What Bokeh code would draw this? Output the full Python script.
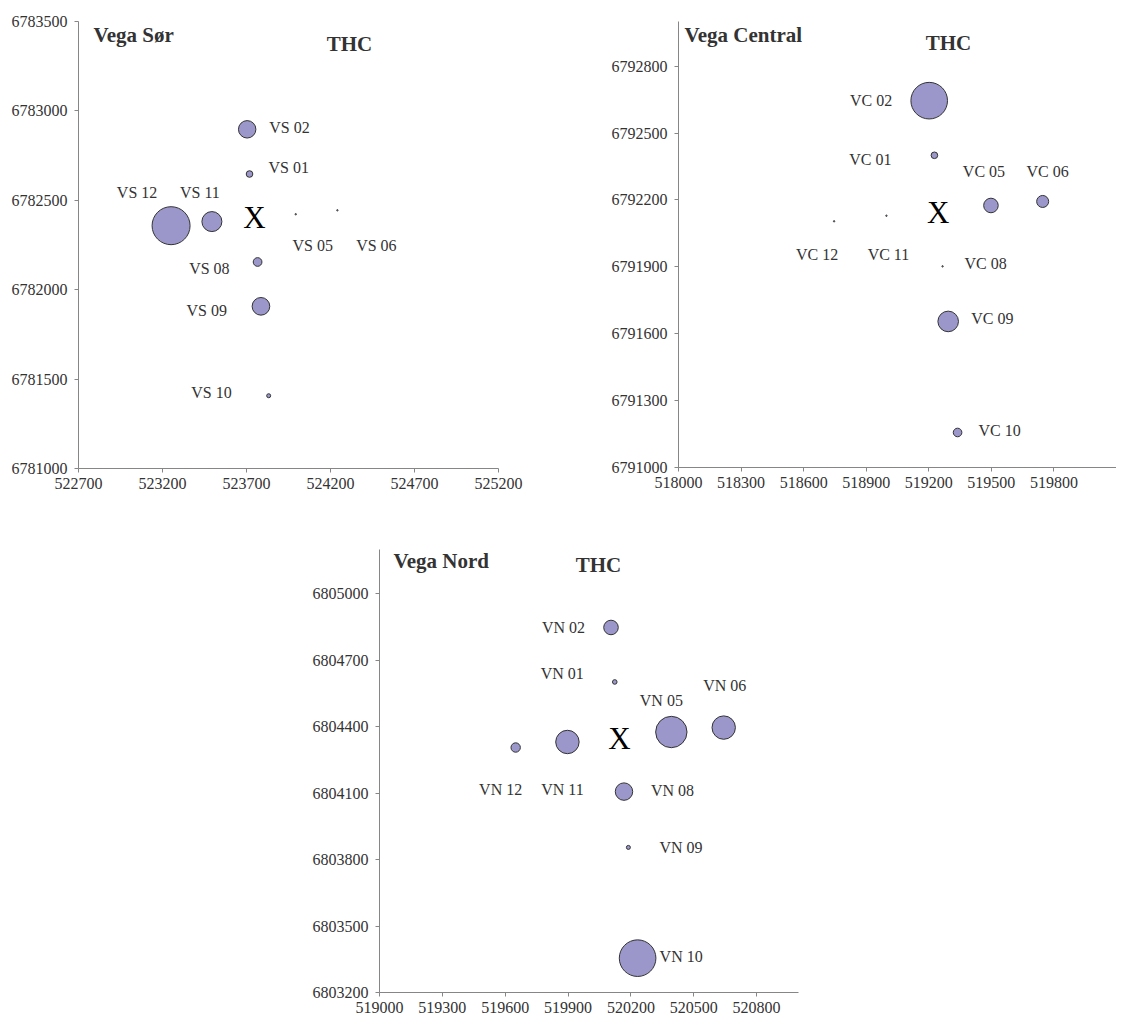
from bokeh.plotting import figure
from bokeh.models import Range1d, FixedTicker, NumeralTickFormatter, ColumnDataSource, Label, Spacer
from bokeh.layouts import column, row
from bokeh.core.properties import value
from bokeh.embed import file_html
from bokeh.resources import INLINE
import math

# ---------------- data ----------------
# Vega Sør
vs_names = ["VS 01", "VS 02", "VS 05", "VS 06", "VS 08", "VS 09", "VS 10", "VS 11", "VS 12"]
vs_x = [523718, 523704, 523993, 524241, 523766, 523786, 523832, 523494, 523251]
vs_y = [6782647, 6782897, 6782422, 6782444, 6782155, 6781907, 6781407, 6782381, 6782358]
vs_thc = [11, 76, 0.5, 0.5, 19, 78, 4, 100, 361]
vs_center = (523748, 6782403)
vs_xticks = [522700, 523200, 523700, 524200, 524700, 525200]
vs_yticks = [6781000, 6781500, 6782000, 6782500, 6783000, 6783500]

# Vega Central
vc_names = ["VC 01", "VC 02", "VC 05", "VC 06", "VC 08", "VC 09", "VC 10", "VC 11", "VC 12"]
vc_x = [519227, 519202, 519498, 519746, 519266, 519293, 519338, 518997, 518746]
vc_y = [6792400, 6792645, 6792175, 6792193, 6791902, 6791655, 6791157, 6792129, 6792104]
vc_thc = [11, 335, 53, 36, 0.5, 106, 18.5, 0.5, 0.5]
vc_center = (519245, 6792145)
vc_xticks = [518000, 518300, 518600, 518900, 519200, 519500, 519800]
vc_yticks = [6791000, 6791300, 6791600, 6791900, 6792200, 6792500, 6792800]

# Vega Nord
vn_names = ["VN 01", "VN 02", "VN 05", "VN 06", "VN 08", "VN 09", "VN 10", "VN 11", "VN 12"]
vn_x = [520123, 520105, 520393, 520643, 520167, 520188, 520232, 519897, 519650]
vn_y = [6804602, 6804848, 6804376, 6804396, 6804107, 6803855, 6803355, 6804331, 6804306]
vn_thc = [5.3, 53, 246, 137, 76, 4, 335, 137, 22]
vn_center = (520145, 6804346)
vn_xticks = [519000, 519300, 519600, 519900, 520200, 520500, 520800]
vn_yticks = [6803200, 6803500, 6803800, 6804100, 6804400, 6804700, 6805000]

# ---------------- styles ----------------
FILL = "#9b97ca"
EDGE = "#333333"
AXIS = "#868686"
TXT = "#333333"
SERIF = "Liberation Serif"

# label placement (dx px, dy px, align)
vs_lab = [(19, -7, "left"), (22, -2, "left"), (17, 31, "center"), (39, 35, "center"),
          (-28, 7, "right"), (-34, 4, "right"), (-37, -3, "right"), (-12, -29, "center"),
          (-34, -33, "center")]
vc_lab = [(-43, 4, "right"), (-37, 0, "right"), (-7, -34, "center"), (5, -30, "center"),
          (22, -3, "left"), (23, -3, "left"), (21, -2, "left"), (2, 39, "center"),
          (-17, 33, "center")]
vn_lab = [(-31, -8, "right"), (-26, 0, "right"), (-10, -32, "center"), (1, -42, "center"),
          (27, -1, "left"), (31, 0, "left"), (22, -2, "left"), (-5, 48, "center"),
          (-15, 42, "center")]


def make_panel(names, xs, ys, thc, center, labs, xr, yr, xticks, yticks,
               title, title_xy, thc_xy, fw, fh, bl, br, bt, bb):
    p = figure(frame_width=fw, frame_height=fh, x_range=Range1d(*xr), y_range=Range1d(*yr),
               output_backend="svg", toolbar_location=None,
               min_border_left=bl, min_border_right=br, min_border_top=bt, min_border_bottom=bb)
    p.outline_line_color = None
    p.xgrid.visible = False
    p.ygrid.visible = False
    p.background_fill_color = "white"
    p.border_fill_color = "white"
    for ax, ticks in ((p.xaxis[0], xticks), (p.yaxis[0], yticks)):
        ax.ticker = FixedTicker(ticks=ticks)
        ax.formatter = NumeralTickFormatter(format="0")
        ax.axis_line_color = AXIS
        ax.major_tick_line_color = AXIS
        ax.minor_tick_line_color = None
        ax.major_tick_in = 0
        ax.major_tick_out = 4
        ax.major_label_text_font = SERIF
        ax.major_label_text_font_size = "16px"
        ax.major_label_text_color = TXT
    p.yaxis[0].major_label_standoff = 7
    p.xaxis[0].major_label_standoff = 5

    sizes = [max(2 * math.sqrt(v), 1.2) for v in thc]
    src = ColumnDataSource(dict(x=xs, y=ys, size=sizes, name=names,
                                dx=[l[0] for l in labs], dy=[l[1] for l in labs],
                                align=[l[2] for l in labs]))
    p.scatter("x", "y", size="size", source=src, fill_color=FILL, line_color=EDGE, line_width=1)
    p.text("x", "y", text="name", x_offset="dx", y_offset="dy", text_align="align",
           text_baseline="middle", source=src, text_font=value(SERIF),
           text_font_size="16px", text_color=TXT)
    p.text(x=[center[0]], y=[center[1]], text=["X"], text_align="center", text_baseline="middle",
           text_font=value(SERIF), text_font_size="31px", text_color="black")

    p.add_layout(Label(x=title_xy[0], y=title_xy[1], x_units="screen", y_units="screen",
                       text=title, text_font=SERIF, text_font_style="bold", text_font_size="21px",
                       text_color=TXT, text_align="left", text_baseline="middle"))
    p.add_layout(Label(x=thc_xy[0], y=thc_xy[1], x_units="screen", y_units="screen",
                       text="THC", text_font=SERIF, text_font_style="bold", text_font_size="21px",
                       text_color=TXT, text_align="center", text_baseline="middle"))
    return p


p1 = make_panel(vs_names, vs_x, vs_y, vs_thc, vs_center, vs_lab, (522700, 525200),
                (6781000, 6783500), vs_xticks, vs_yticks, "Vega Sør", (15, 434), (271, 425),
                420, 447, 78, 110, 20, 41)
p2 = make_panel(vc_names, vc_x, vc_y, vc_thc, vc_center, vc_lab, (518000, 520100),
                (6791000, 6793000), vc_xticks, vc_yticks, "Vega Central", (6, 433), (270, 425),
                438, 446, 69, 0, 21, 41)
p3 = make_panel(vn_names, vn_x, vn_y, vn_thc, vn_center, vn_lab, (519000, 521000),
                (6803200, 6805200), vn_xticks, vn_yticks, "Vega Nord", (14, 432), (219, 428),
                419, 443, 69, 5, 41, 30)

layout = column(row(p1, p2), row(Spacer(width=309, height=10), p3))

open("out.html", "w").write(file_html(layout, INLINE))
